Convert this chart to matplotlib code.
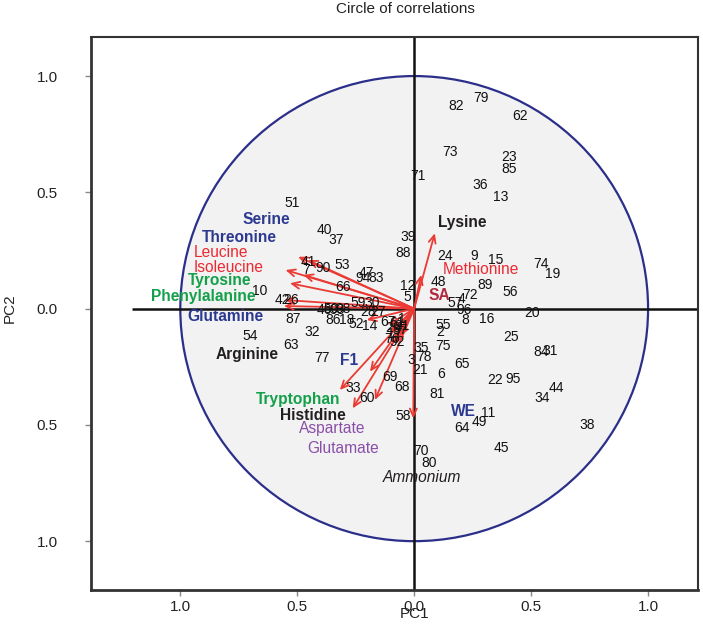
import matplotlib
matplotlib.use("Agg")
import matplotlib.pyplot as plt
from matplotlib.patches import Circle

plt.rcParams['font.family'] = ['Liberation Sans', 'DejaVu Sans']

# ---- variable loadings (arrows) ----
arrow_x = [-0.496, -0.550, -0.474, -0.531, -0.553, -0.557, -0.454, -0.203,
           -0.318, -0.263, -0.189, -0.168, -0.104, -0.080, -0.060, -0.110,
           -0.004, 0.088, 0.030]
arrow_y = [0.223, 0.166, 0.145, 0.109, 0.037, 0.011, 0.209, -0.049,
           -0.350, -0.429, -0.271, -0.393, -0.105, -0.150, -0.120, -0.070,
           -0.472, 0.324, 0.145]

# ---- variable names ----
var_names = ["Serine", "Threonine", "Leucine", "Isoleucine", "Tyrosine",
             "Phenylalanine", "Glutamine", "Arginine", "Tryptophan", "Histidine",
             "Aspartate", "Glutamate", "Ammonium", "Lysine", "Methionine",
             "SA", "WE", "F1"]
var_x = [-0.631, -0.749, -0.826, -0.792, -0.832, -0.903, -0.809, -0.714, -0.497,
         -0.433, -0.352, -0.302, 0.033, 0.204, 0.285, 0.109, 0.212, -0.279]
var_y = [0.384, 0.307, 0.240, 0.178, 0.123, 0.054, -0.032, -0.199, -0.390,
         -0.460, -0.515, -0.601, -0.727, 0.371, 0.169, 0.058, -0.443, -0.221]
var_group = ["blue", "blue", "red", "red", "green", "green", "blue", "black",
             "green", "black", "purple", "purple", "italic", "black", "red",
             "sa", "blue", "blue"]

# ---- sample labels ----
sample_ids = ["51", "40", "37", "39", "88", "41", "7", "90", "53", "47", "94", "83",
              "12", "5", "10", "42", "26", "66", "59", "30", "87", "86", "18", "52",
              "14", "32", "54", "63", "77", "46", "50", "93", "98", "28", "27", "67",
              "1", "29", "61", "17", "76", "92", "97", "91", "35", "3", "78", "21",
              "69", "68", "33", "60", "58", "81", "70", "80", "64", "74", "19", "48",
              "72", "89", "56", "57", "4", "96", "8", "16", "20", "55", "2", "75",
              "25", "84", "31", "65", "6", "22", "95", "44", "34", "11", "49", "38",
              "45", "82", "79", "62", "73", "23", "85", "71", "36", "13", "24", "9",
              "15"]
sample_x = [-0.524, -0.382, -0.332, -0.028, -0.048, -0.453, -0.463, -0.389, -0.310,
            -0.203, -0.218, -0.161, -0.026, -0.031, -0.659, -0.565, -0.527, -0.303,
            -0.239, -0.181, -0.517, -0.346, -0.289, -0.249, -0.189, -0.438, -0.702,
            -0.527, -0.394, -0.382, -0.356, -0.330, -0.305, -0.198, -0.155, -0.112,
            -0.053, -0.091, -0.074, -0.082, -0.095, -0.074, -0.061, -0.053, 0.029,
            -0.014, 0.041, 0.024, -0.104, -0.054, -0.263, -0.201, -0.047, 0.097,
            0.029, 0.064, 0.203, 0.544, 0.594, 0.103, 0.238, 0.302, 0.409, 0.174,
            0.204, 0.212, 0.217, 0.312, 0.502, 0.124, 0.110, 0.124, 0.416, 0.544,
            0.580, 0.203, 0.117, 0.345, 0.423, 0.606, 0.549, 0.316, 0.278, 0.739,
            0.374, 0.178, 0.284, 0.452, 0.153, 0.406, 0.406, 0.017, 0.284, 0.371,
            0.131, 0.255, 0.349]
sample_y = [0.455, 0.338, 0.295, 0.310, 0.239, 0.202, 0.166, 0.173, 0.188, 0.154,
            0.130, 0.130, 0.099, 0.052, 0.076, 0.037, 0.037, 0.092, 0.025, 0.024,
            -0.046, -0.049, -0.049, -0.068, -0.073, -0.099, -0.118, -0.157, -0.214,
            -0.006, -0.002, -0.006, -0.002, -0.015, -0.015, -0.058, -0.045, -0.083,
            -0.062, -0.109, -0.131, -0.144, -0.092, -0.075, -0.171, -0.221, -0.208,
            -0.264, -0.295, -0.338, -0.343, -0.386, -0.460, -0.367, -0.611, -0.663,
            -0.515, 0.190, 0.147, 0.116, 0.058, 0.102, 0.073, 0.025, 0.041, -0.006,
            -0.049, -0.046, -0.020, -0.071, -0.099, -0.161, -0.121, -0.185, -0.181,
            -0.238, -0.281, -0.307, -0.303, -0.343, -0.386, -0.450, -0.489, -0.501,
            -0.601, 0.871, 0.905, 0.828, 0.675, 0.653, 0.599, 0.570, 0.532, 0.481,
            0.226, 0.226, 0.209]

tick_values = [-1.0, -0.5, 0.0, 0.5, 1.0]
tick_labels = ["1.0", "0.5", "0.0", "0.5", "1.0"]

colors = {"blue": "#2b3990", "red": "#ec2a32", "green": "#14a04a",
          "black": "#231f20", "purple": "#8a4fa8", "italic": "#231f20",
          "sa": "#b2283e"}

fig = plt.figure(figsize=(7.03, 6.25), dpi=100)
ax = fig.add_axes([0.1294, 0.056, 0.863, 0.8848])
ax.set_xlim(-1.382, 1.212)
ax.set_ylim(-1.21, 1.168)

circle = Circle((0, 0), 1.0, facecolor="#f2f2f2", edgecolor="#2b2f8a",
                lw=1.6, zorder=1)
ax.add_patch(circle)
ax.plot([-1.206, 1.212], [0, 0], color="#111111", lw=1.8, zorder=2,
        solid_capstyle="butt")
ax.axvline(0, color="#111111", lw=1.8, zorder=2)

for x, y in zip(arrow_x, arrow_y):
    ax.annotate("", xy=(x, y), xytext=(0, 0),
                arrowprops=dict(arrowstyle="->,head_length=0.55,head_width=0.25",
                                color="#ea3a33", lw=1.3, shrinkA=0, shrinkB=0),
                zorder=3)

for sid, x, y in zip(sample_ids, sample_x, sample_y):
    ax.text(x, y, sid, fontsize=10, color="#111111", ha="center", va="center",
            zorder=4)

for name, x, y, g in zip(var_names, var_x, var_y, var_group):
    weight = "normal" if g in ("red", "purple", "italic") else "bold"
    style = "italic" if g == "italic" else "normal"
    ax.text(x, y, name, fontsize=11.2, color=colors[g], fontweight=weight,
            fontstyle=style, ha="center", va="center", zorder=5)

ax.set_xticks(tick_values)
ax.set_xticklabels(tick_labels)
ax.set_yticks(tick_values)
ax.set_yticklabels(tick_labels)
ax.tick_params(axis="x", length=4, width=1, color="#888888", labelsize=11,
               pad=3, labelcolor="#222222")
ax.tick_params(axis="y", length=4, width=1, color="#888888", labelsize=11,
               pad=20, labelcolor="#222222")
for side in ["top", "right"]:
    ax.spines[side].set_color("#333333")
    ax.spines[side].set_linewidth(1.5)
for side in ["left", "bottom"]:
    ax.spines[side].set_color("#333333")
    ax.spines[side].set_linewidth(2.0)

fig.text(405 / 703, 1 - 9 / 625, "Circle of correlations", ha="center",
         va="center", fontsize=11, color="#222222",
         family=["Liberation Sans Narrow", "Liberation Sans"])
fig.text(415 / 703, 1 - 614 / 625, "PC1", ha="center", va="center",
         fontsize=11, color="#222222")
fig.text(10 / 703, 1 - 308 / 625, "PC2", ha="center", va="center",
         fontsize=11, color="#222222", rotation=90)

fig.savefig("out.png", dpi=100)
